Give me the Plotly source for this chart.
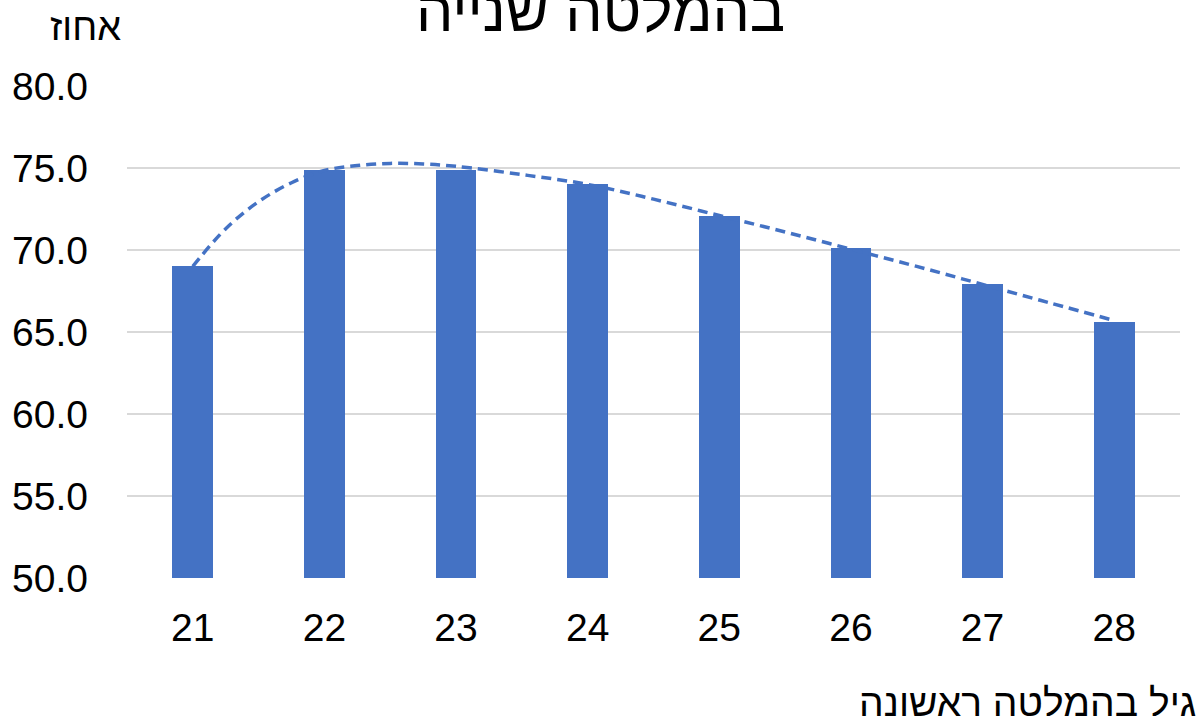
import plotly.graph_objects as go

# first-calving age vs. second-calving percentage
ages = [21, 22, 23, 24, 25, 26, 27, 28]
percent = [69.0, 74.9, 74.9, 74.0, 72.1, 70.1, 67.9, 65.6]

# dashed trend line
trend_x = [21, 21.25, 21.5, 21.75, 22, 22.25, 22.5, 22.75, 23, 23.5,
           24, 24.5, 25, 25.5, 26, 26.5, 27, 27.5, 28]
trend_y = [69.0, 71.3, 72.95, 74.1, 74.85, 75.15, 75.28, 75.25, 75.1, 74.6,
           74.0, 73.1, 72.1, 71.1, 70.05, 69.0, 67.9, 66.8, 65.7]

y_ticks = [50, 55, 60, 65, 70, 75, 80]

title_text = "בהמלטה שנייה"
y_title = "אחוז"
x_title = "גיל בהמלטה ראשונה"

BLUE = "#4472C4"
FONT = "Liberation Sans, Arial, sans-serif"

fig = go.Figure()
fig.add_trace(go.Bar(x=ages, y=percent, width=0.31, marker_color=BLUE,
                     marker_line_width=0, showlegend=False))
fig.add_trace(go.Scatter(x=trend_x, y=trend_y, mode="lines",
                         line=dict(color=BLUE, width=3.5, dash="10px,6px",
                                   shape="spline", smoothing=1.0),
                         showlegend=False))

fig.update_layout(
    width=1196, height=716,
    margin=dict(l=127, r=16, t=86, b=138),
    plot_bgcolor="white", paper_bgcolor="white",
    font=dict(family=FONT, color="#000000"),
    bargap=0,
)
fig.update_xaxes(range=[20.5, 28.5], tickvals=ages, ticktext=[str(a) for a in ages],
                 tickfont=dict(size=39), showgrid=False, zeroline=False,
                 showline=False, ticks="", ticklabelstandoff=23)
fig.update_yaxes(range=[50, 80], tickvals=y_ticks, tickformat=".1f",
                 tickfont=dict(size=39), showgrid=True, gridcolor="#D9D9D9",
                 gridwidth=2, zeroline=False, showline=False, ticks="",
                 ticklabelstandoff=38)

fig.add_annotation(text=title_text, xref="paper", yref="paper", x=0.45, y=1 + 40 / 492,
                   xanchor="center", yanchor="bottom", showarrow=False,
                   font=dict(size=59))
fig.add_annotation(text=y_title, xref="paper", yref="paper", x=-4 / 1053, y=1 + 36 / 492,
                   xanchor="right", yanchor="bottom", showarrow=False,
                   font=dict(size=38))
fig.add_annotation(text=x_title, xref="paper", yref="paper", x=1 + 18 / 1053, y=-101 / 492,
                   xanchor="right", yanchor="top", showarrow=False,
                   font=dict(size=39))

fig.write_html("out.html", config={"displayModeBar": False},
               post_script="document.body.style.margin='0px';")
